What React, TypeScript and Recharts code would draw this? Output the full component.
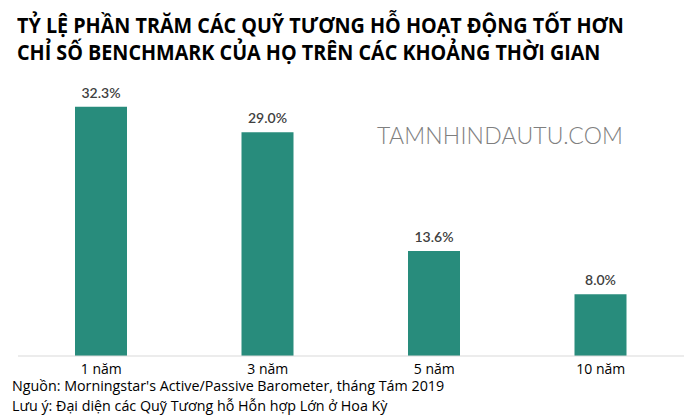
import { BarChart, Bar, XAxis, YAxis, LabelList } from "recharts";

const categories = ["1 năm", "3 năm", "5 năm", "10 năm"];
const values = [32.3, 29.0, 13.6, 8.0];

const titleLines = [
  "TỶ LỆ PHẦN TRĂM CÁC QUỸ TƯƠNG HỖ HOẠT ĐỘNG TỐT HƠN",
  "CHỈ SỐ BENCHMARK CỦA HỌ TRÊN CÁC KHOẢNG THỜI GIAN",
];
const footnotes = [
  "Nguồn: Morningstar's Active/Passive Barometer, tháng Tám 2019",
  "Lưu ý: Đại diện các Quỹ Tương hỗ Hỗn hợp Lớn ở Hoa Kỳ",
];

const data = categories.map((c, i) => ({ name: c, value: values[i] }));

export default function App() {
  return (
    <div style={{ position: "absolute", left: 0, top: 0, width: 700, height: 418, background: "#fff", fontFamily: "'Open Sans', sans-serif" }}>
      <div style={{ position: "absolute", left: 17, top: 12, fontSize: 21, fontWeight: 700, color: "#000", lineHeight: "27px", fontFamily: "'Open Sans', sans-serif", transform: "scaleX(0.94)", transformOrigin: "left top", whiteSpace: "nowrap" }}>
        {titleLines.map((t) => (
          <div key={t}>{t}</div>
        ))}
      </div>
      <div style={{ position: "absolute", left: 377, top: 121, fontSize: 23, color: "#7f7f7f", fontFamily: "Lato, sans-serif", fontWeight: 300, letterSpacing: 0.2, whiteSpace: "nowrap" }}>
        TAMNHINDAUTU.COM
      </div>
      <BarChart width={700} height={418} data={data} margin={{ top: 86, right: 16, bottom: 32, left: 18 }}>
        <XAxis
          dataKey="name"
          height={30}
          axisLine={{ stroke: "#d9d9d9" }}
          tickLine={false}
          tick={{ fill: "#000", fontSize: 14, fontFamily: "'Open Sans', sans-serif" }}
        />
        <YAxis hide domain={[0, 35]} />
        <Bar dataKey="value" fill="#288c7c" barSize={52} isAnimationActive={false}>
          <LabelList
            dataKey="value"
            position="top"
            offset={9}
            formatter={(v: any) => `${Number(v).toFixed(1)}%`}
            style={{ fill: "#404040", fontSize: 14, fontWeight: 600, fontFamily: "Lato, sans-serif" }}
          />
        </Bar>
      </BarChart>
      <div style={{ position: "absolute", left: 12, top: 376, fontSize: 14.3, color: "#000", lineHeight: "20px", whiteSpace: "nowrap" }}>
        {footnotes.map((t) => (
          <div key={t}>{t}</div>
        ))}
      </div>
    </div>
  );
}
